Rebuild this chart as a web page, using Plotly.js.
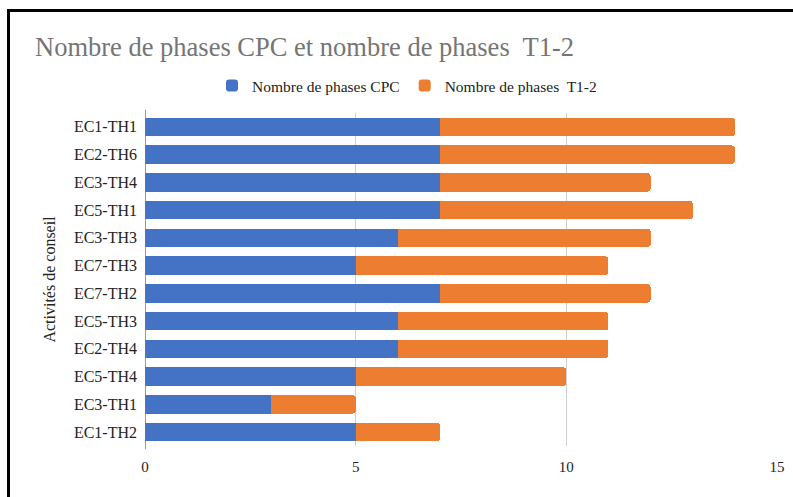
<!DOCTYPE html>
<html>
<head>
<meta charset="utf-8">
<script src="https://cdn.plot.ly/plotly-3.0.1.min.js"></script>
<style>
  html, body { margin:0; padding:0; background:#fff; }
  #wrap { position:relative; width:793px; height:497px; }
  #chart { position:absolute; left:0; top:0; width:793px; height:497px; }
  #frame { position:absolute; left:7px; top:9px; right:0; bottom:0; border-top:3px solid #000; border-left:3px solid #000; pointer-events:none; }
</style>
</head>
<body>
<div id="wrap">
  <div id="chart"></div>
  <div id="frame"></div>
</div>
<script>
const categories = ["EC1-TH1","EC2-TH6","EC3-TH4","EC5-TH1","EC3-TH3","EC7-TH3","EC7-TH2","EC5-TH3","EC2-TH4","EC5-TH4","EC3-TH1","EC1-TH2"];
const cpcValues = [7,7,7,7,6,5,7,6,6,5,3,5];
const t12Values = [7,7,5,6,6,6,5,5,5,5,2,2];
const seriesNames = ["Nombre de phases CPC","Nombre de phases  T1-2"];
const xTicks = [0,5,10,15];

const serif = "Liberation Serif, Times New Roman, serif";

const data = [
  { type:'bar', orientation:'h', y:categories, x:cpcValues, name:seriesNames[0],
    marker:{color:'#4472C4', cornerradius:3}, hoverinfo:'x+y' },
  { type:'bar', orientation:'h', y:categories, x:t12Values, name:seriesNames[1],
    marker:{color:'#ED7D31', cornerradius:3}, hoverinfo:'x+y' }
];

const layout = {
  width:793, height:497,
  margin:{l:145, r:16, t:113, b:51},
  paper_bgcolor:'#fff', plot_bgcolor:'#fff',
  barmode:'stack', bargap:0.34,
  font:{family:serif, color:'#222', size:15},
  title:{text:'Nombre de phases CPC et nombre de phases  T1-2', xref:'container', yref:'container',
         x:35/793, xanchor:'left', y:1-47/497, yanchor:'middle',
         font:{family:serif, size:26.5, color:'#757575'}},
  legend:{orientation:'h', xref:'container', yref:'container', x:407/793, xanchor:'center',
          y:1-86/497, yanchor:'middle', font:{family:serif, size:15.5, color:'#222'},
          traceorder:'normal', itemwidth:30},
  xaxis:{range:[0,15], tickvals:xTicks, showgrid:true, gridcolor:'#d0d0d0', gridwidth:1,
         zeroline:false, showline:false, ticks:'', tickfont:{family:serif, size:15, color:'#222'},
         ticklabelstandoff:10, fixedrange:true},
  yaxis:{categoryorder:'array', categoryarray:categories, autorange:'reversed',
         showgrid:false, zeroline:false, showline:false, ticks:'',
         tickfont:{family:serif, size:16, color:'#222'}, ticklabelstandoff:7,
         title:{text:'Activités de conseil', font:{family:serif, size:16, color:'#222'}, standoff:14},
         fixedrange:true},
  shapes:[{type:'line', xref:'x', yref:'paper', x0:0, x1:0, y0:-0.01, y1:1.01, line:{color:'#777', width:1.5}}],
  showlegend:true
};

Plotly.newPlot('chart', data, layout, {displayModeBar:false, staticPlot:true});
</script>
</body>
</html>
